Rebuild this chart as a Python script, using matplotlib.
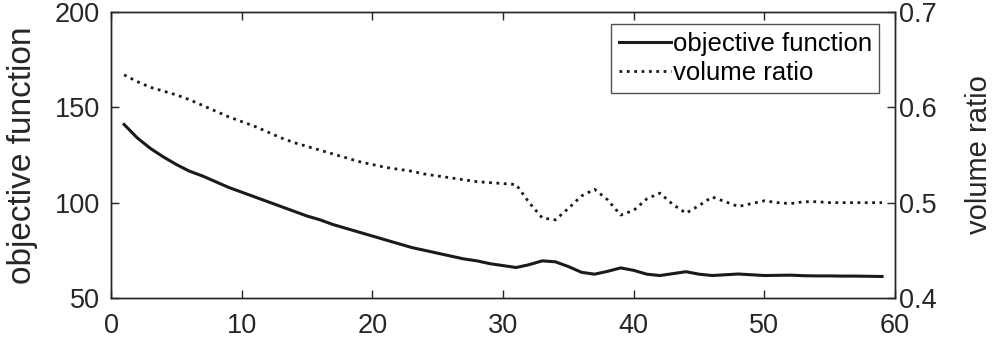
import matplotlib
matplotlib.use("Agg")
import matplotlib.pyplot as plt

plt.rcParams['font.family'] = ['Liberation Sans', 'DejaVu Sans']

# iteracion
iters = list(range(1, 60))

# funcion objetivo
objective = [141, 134, 128.5, 124, 120, 116.5, 114, 111, 108, 105.5,
             103, 100.5, 98, 95.5, 93, 91, 88.5, 86.5, 84.5, 82.5,
             80.5, 78.5, 76.5, 75, 73.5, 72, 70.5, 69.5, 68, 67,
             66, 67.5, 69.5, 69, 66.5, 63.5, 62.5, 64, 65.8, 64.5,
             62.5, 61.8, 62.8, 63.8, 62.5, 61.8, 62.2, 62.6, 62.2, 61.8,
             61.9, 62, 61.7, 61.6, 61.6, 61.5, 61.5, 61.4, 61.3]

# fraccion de volumen
volume = [0.634, 0.627, 0.621, 0.617, 0.613, 0.608, 0.602, 0.596, 0.590, 0.585,
          0.580, 0.574, 0.568, 0.563, 0.559, 0.555, 0.551, 0.547, 0.543, 0.540,
          0.537, 0.535, 0.533, 0.530, 0.528, 0.526, 0.524, 0.522, 0.521, 0.520,
          0.519, 0.500, 0.484, 0.482, 0.494, 0.507, 0.514, 0.503, 0.487, 0.492,
          0.504, 0.510, 0.498, 0.489, 0.497, 0.506, 0.501, 0.496, 0.499, 0.502,
          0.500, 0.499, 0.501, 0.501, 0.500, 0.500, 0.500, 0.500, 0.500]

gris = '#262626'

fig = plt.figure(figsize=(9.95, 3.41), dpi=100)
ax = fig.add_axes([0.1116, 0.126, 0.788, 0.839])
ax2 = ax.twinx()

l1, = ax.plot(iters, objective, color='#1a1a1a', lw=2.2, label='objective function')
l2, = ax2.plot(iters, volume, color='#1a1a1a', lw=2.0, ls=':', label='volume ratio')

ax.set_xlim(0, 60)
ax.set_ylim(50, 200)
ax.set_xticks(range(0, 61, 10))
ax.set_yticks([50, 100, 150, 200])
ax2.set_ylim(0.4, 0.7)
ax2.set_yticks([0.4, 0.5, 0.6, 0.7])

for a in (ax, ax2):
    a.tick_params(direction='in', length=6, width=1, colors=gris, labelsize=19.5)
    for s in a.spines.values():
        s.set_color(gris)
        s.set_linewidth(1)
ax.tick_params(axis='x', top=True, pad=11)
ax.tick_params(axis='y', pad=8)
ax2.tick_params(axis='y', pad=3)

ax.set_ylabel('objective function', fontsize=24, color=gris, labelpad=12)
ax2.set_ylabel('volume ratio', fontsize=21, color=gris, labelpad=20)

leg = ax2.legend([l1, l2], ['objective function', 'volume ratio'],
                 loc='upper right', bbox_to_anchor=(0.98, 0.958), fontsize=18.5,
                 frameon=True, fancybox=False, handlelength=2.0, handletextpad=0.08,
                 borderpad=0.3, labelspacing=0.2, borderaxespad=0)
leg.get_frame().set_edgecolor(gris)
leg.get_frame().set_linewidth(1)

fig.savefig('out.png', dpi=100)
